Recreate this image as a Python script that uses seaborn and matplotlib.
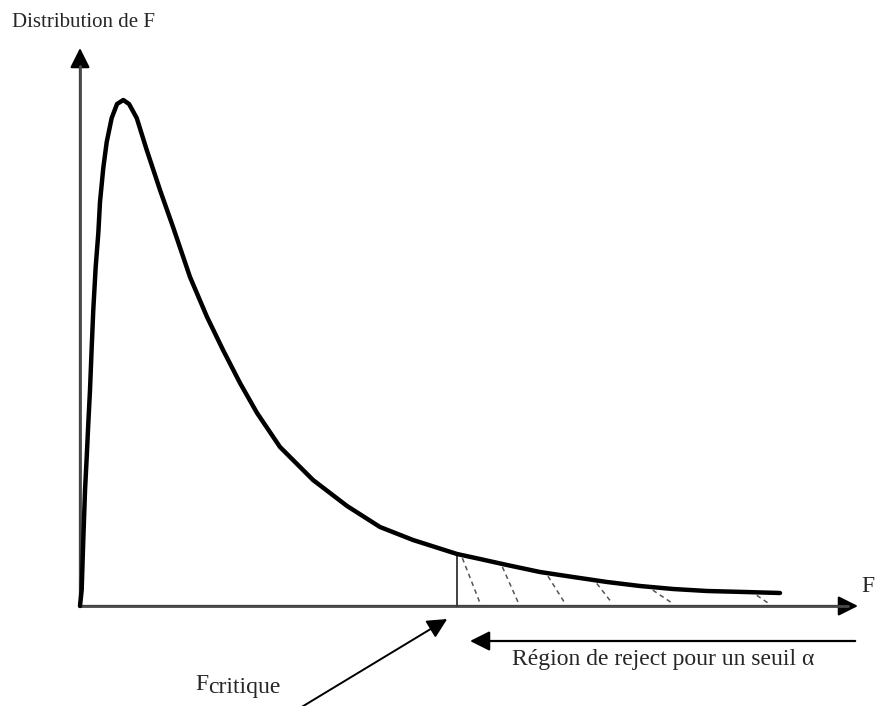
import numpy as np
import pandas as pd
import matplotlib
matplotlib.use("Agg")
import matplotlib.pyplot as plt
import seaborn as sns

# ---- data (arbitrary units) ----
f_values = [0.000, 0.021, 0.041, 0.063, 0.084, 0.104, 0.125, 0.146, 0.166, 0.196,
            0.229, 0.250, 0.291, 0.334, 0.396, 0.463, 0.541, 0.613, 0.709, 0.834,
            0.938, 1.000, 1.163, 1.375, 1.588, 1.788, 2.000, 2.213, 2.500, 2.913,
            3.338, 3.750, 4.163, 4.713, 5.000, 5.338, 5.750, 6.163, 6.588, 7.000,
            7.413, 7.838, 8.313, 8.750]
density = [0.00, 0.16, 0.66, 1.16, 1.49, 1.83, 2.16, 2.58, 2.96, 3.39,
           3.73, 4.04, 4.38, 4.64, 4.88, 5.02, 5.06, 5.02, 4.88, 4.56,
           4.31, 4.16, 3.79, 3.29, 2.89, 2.56, 2.23, 1.93, 1.59, 1.26,
           1.00, 0.79, 0.66, 0.52, 0.47, 0.41, 0.34, 0.29, 0.24, 0.20,
           0.17, 0.15, 0.14, 0.13]
f_critical = 4.71
hatch_top = [4.78, 5.28, 5.85, 6.46, 7.16, 8.46]
hatch_bottom = [5.00, 5.48, 6.06, 6.65, 7.40, 8.60]

title_text = "Distribution de F"
axis_text = "F"
crit_main = "F"
crit_sub = "critique"
region_text = "Région de reject pour un seuil α"

df = pd.DataFrame({"F": f_values, "densite": density})

sns.set_style("white")
plt.rcParams["font.family"] = ["Liberation Serif", "DejaVu Serif"]

fig = plt.figure(figsize=(8.75, 7.06), dpi=100)
ax = fig.add_axes([0, 0, 1, 1])
ax.set_xlim(-1.0, 9.9375)
ax.set_ylim(-1.0, 6.06)
ax.axis("off")

axis_col = "#4a4a4a"
head = "-|>,head_length=0.6,head_width=0.3"
# y axis and x axis with arrow heads
ax.annotate("", xy=(0, 5.58), xytext=(0, 0),
            arrowprops=dict(arrowstyle=head, color="black", lw=1.6,
                            mutation_scale=20, shrinkA=0, shrinkB=0), zorder=2)
ax.annotate("", xy=(9.725, 0), xytext=(0, 0),
            arrowprops=dict(arrowstyle=head, color="black", lw=1.6,
                            mutation_scale=20, shrinkA=0, shrinkB=0), zorder=2)
ax.plot([0, 9.6], [0, 0], color=axis_col, lw=2, zorder=3)
ax.plot([0, 0], [0, 5.4], color=axis_col, lw=2, zorder=3)

# density curve
sns.lineplot(data=df, x="F", y="densite", ax=ax, color="black", lw=3.2,
             sort=False, zorder=5)
for line in ax.lines:
    line.set_solid_joinstyle("round")
    line.set_solid_capstyle("round")
ax.set_xlabel("")
ax.set_ylabel("")

# critical line
crit_y = np.interp(f_critical, f_values, density)
ax.plot([f_critical, f_critical], [0, crit_y], color="#333333", lw=1.3, zorder=4)

# hatch of the rejection region
for top, bot in zip(hatch_top, hatch_bottom):
    ytop = np.interp(top, f_values, density)
    ax.plot([top, bot], [ytop - 0.03, 0.03], color="#555555", lw=1.1,
            ls=(0, (3, 2.5)), zorder=4)

# rejection region arrow
ax.annotate("", xy=(4.875, -0.35), xytext=(9.69, -0.35),
            arrowprops=dict(arrowstyle=head, color="black", lw=1.6,
                            mutation_scale=20, shrinkA=0, shrinkB=0))
ax.text(5.4, -0.59, region_text, fontsize=17, ha="left", va="baseline")

# F critique arrow
ax.annotate("", xy=(4.59, -0.13), xytext=(2.75, -1.02),
            arrowprops=dict(arrowstyle=head, color="black", lw=1.4,
                            mutation_scale=20, shrinkA=0, shrinkB=0))
ax.text(1.44, -0.84, crit_main, fontsize=17, ha="left", va="baseline")
ax.text(1.60, -0.87, crit_sub, fontsize=17, ha="left", va="baseline")

# labels
ax.text(-0.85, 5.79, title_text, fontsize=15, ha="left", va="baseline")
ax.text(9.77, 0.14, axis_text, fontsize=17, ha="left", va="baseline")

fig.savefig("out.png", dpi=100)
